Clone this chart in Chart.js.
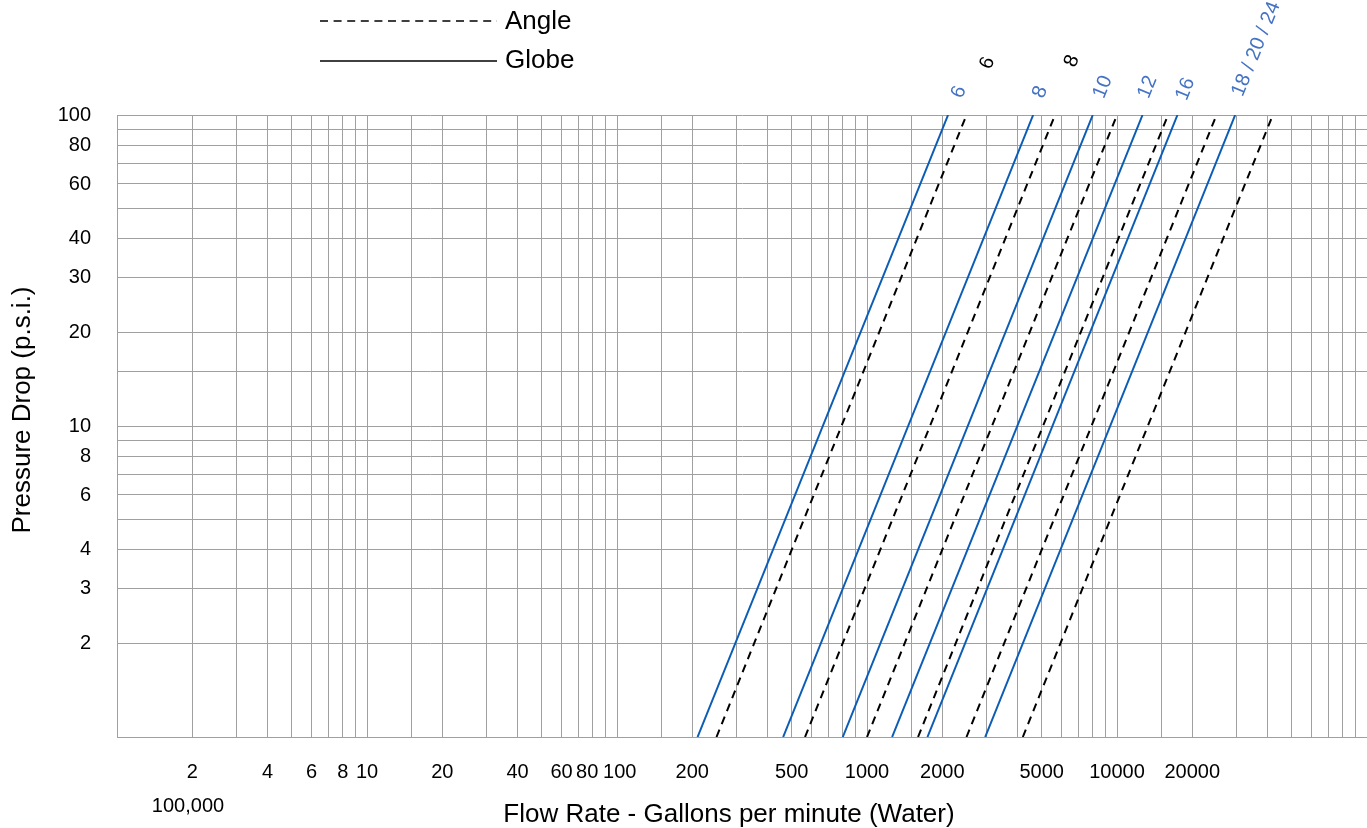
<!DOCTYPE html>
<html>
<head>
<meta charset="utf-8">
<title>Pressure Drop vs Flow Rate</title>
<script src="https://cdn.jsdelivr.net/npm/chart.js@4.4.1/dist/chart.umd.min.js"></script>
<style>
    body { margin: 0; background: #fff; overflow: hidden; }
    canvas { display: block; }
</style>
</head>
<body>
<canvas id="flowChart" width="1367" height="828"></canvas>
<script>
// valve sizes and flow (gpm) at 1 psi and 100 psi
const globeSizes = ['6', '8', '10', '12', '16', '18 / 20 / 24'];
const globeFlowAt1 = [210, 462, 800, 1260, 1745, 2970];
const globeFlowAt100 = [2110, 4620, 8000, 12650, 17450, 29700];

const angleSizes = ['6', '8', '', '', '', ''];
const angleFlowAt1 = [250, 565, 1000, 1600, 2500, 4200];
const angleFlowAt100 = [2500, 5650, 10000, 16000, 25000, 42000];

const pressureRange = [1, 100];

const xTickLabels = [2, 4, 6, 8, 10, 20, 40, 60, 80, 100, 200, 500, 1000, 2000, 5000, 10000, 20000];
const yTickLabels = [2, 3, 4, 6, 8, 10, 20, 30, 40, 60, 80, 100];

const fontFamily = "'Liberation Sans', Arial, sans-serif";
const gridColor = '#a0a0a0';
const globeColor = '#0b5cb5';
const globeLabelColor = '#4472c4';

Chart.defaults.font.family = fontFamily;
Chart.defaults.color = '#000';

// Build datasets
const datasets = [];
for (let i = 0; i < globeSizes.length; i++) {
    datasets.push({
        label: 'Globe ' + globeSizes[i],
        data: [
            { x: globeFlowAt1[i], y: pressureRange[0] },
            { x: globeFlowAt100[i], y: pressureRange[1] }
        ],
        showLine: true,
        borderColor: globeColor,
        borderWidth: 2,
        pointRadius: 0
    });
}
for (let i = 0; i < angleFlowAt1.length; i++) {
    datasets.push({
        label: 'Angle ' + angleSizes[i],
        data: [
            { x: angleFlowAt1[i], y: pressureRange[0] },
            { x: angleFlowAt100[i], y: pressureRange[1] }
        ],
        showLine: true,
        borderColor: '#000',
        borderWidth: 2,
        borderDash: [8, 6],
        pointRadius: 0
    });
}

// label placement near the top end of each line (pixels)
const globeLabelDx = [11, 7, 10, 5, 8, 21];
const globeLabelDy = [-23, -23, -28, -28, -26, -66];
const angleLabelDx = [21, 17];
const angleLabelDy = [-52, -54];
const labelAngle = -68 * Math.PI / 180;

function drawRotated(ctx, text, x, y, color) {
    ctx.save();
    ctx.translate(x, y);
    ctx.rotate(labelAngle);
    ctx.fillStyle = color;
    ctx.textAlign = 'center';
    ctx.textBaseline = 'middle';
    ctx.fillText(text, 0, 0);
    ctx.restore();
}

// Draws legend, axis titles and line labels
const overlayPlugin = {
    id: 'overlay',
    afterDraw(chart) {
        const ctx = chart.ctx;
        const xs = chart.scales.x;
        const ys = chart.scales.y;
        const topY = ys.getPixelForValue(pressureRange[1]);

        ctx.save();

        // legend
        ctx.strokeStyle = '#000';
        ctx.lineWidth = 1.6;
        ctx.setLineDash([8, 5.6]);
        ctx.beginPath();
        ctx.moveTo(320, 21);
        ctx.lineTo(497, 21);
        ctx.stroke();
        ctx.setLineDash([]);
        ctx.beginPath();
        ctx.moveTo(320, 61);
        ctx.lineTo(497, 61);
        ctx.stroke();

        ctx.fillStyle = '#000';
        ctx.font = '26px ' + fontFamily;
        ctx.textAlign = 'left';
        ctx.textBaseline = 'alphabetic';
        ctx.fillText('Angle', 505, 29);
        ctx.fillText('Globe', 505, 68);

        // axis titles
        ctx.textAlign = 'center';
        ctx.fillText('Flow Rate - Gallons per minute (Water)', 729, 822);
        ctx.save();
        ctx.translate(30, 410);
        ctx.rotate(-Math.PI / 2);
        ctx.fillText('Pressure Drop (p.s.i.)', 0, 0);
        ctx.restore();

        ctx.font = '20px ' + fontFamily;
        ctx.textBaseline = 'middle';
        ctx.fillText('100,000', 188, 806);

        // line labels
        for (let i = 0; i < globeSizes.length; i++) {
            const px = xs.getPixelForValue(globeFlowAt100[i]) + globeLabelDx[i];
            drawRotated(ctx, globeSizes[i], px, topY + globeLabelDy[i], globeLabelColor);
        }
        for (let i = 0; i < angleLabelDx.length; i++) {
            const px = xs.getPixelForValue(angleFlowAt100[i]) + angleLabelDx[i];
            drawRotated(ctx, angleSizes[i], px, topY + angleLabelDy[i], '#000');
        }

        ctx.restore();
    }
};

// crowded labels get a little space so they do not run together
const labelNudge = { 80: '80  ', 100: ' 100' };

function pickLabel(list, nudge) {
    return function (value) {
        const v = Math.round(value * 1000) / 1000;
        if (!list.includes(v)) return '';
        return (nudge && nudge[v]) || String(v);
    };
}

const ctx = document.getElementById('flowChart').getContext('2d');
new Chart(ctx, {
    type: 'scatter',
    data: { datasets: datasets },
    options: {
        responsive: false,
        animation: false,
        layout: { padding: { top: 115, right: 0, bottom: 0, left: 0 } },
        plugins: {
            legend: { display: false },
            tooltip: { enabled: false }
        },
        scales: {
            x: {
                type: 'logarithmic',
                min: 1,
                max: 100000,
                grid: { color: gridColor, drawTicks: false },
                border: { color: gridColor },
                ticks: {
                    autoSkip: false,
                    maxRotation: 0,
                    minRotation: 0,
                    padding: 23,
                    font: { size: 20 },
                    callback: pickLabel(xTickLabels, labelNudge)
                },
                afterFit: function (scale) {
                    scale.height = 91;
                    scale.paddingLeft = 0;
                    scale.paddingRight = 0;
                }
            },
            y: {
                type: 'logarithmic',
                min: 1,
                max: 100,
                grid: { color: gridColor, drawTicks: false },
                border: { color: gridColor },
                ticks: {
                    autoSkip: false,
                    padding: 26,
                    font: { size: 20 },
                    callback: pickLabel(yTickLabels)
                },
                afterFit: function (scale) { scale.width = 117; }
            }
        }
    },
    plugins: [overlayPlugin]
});
</script>
</body>
</html>
